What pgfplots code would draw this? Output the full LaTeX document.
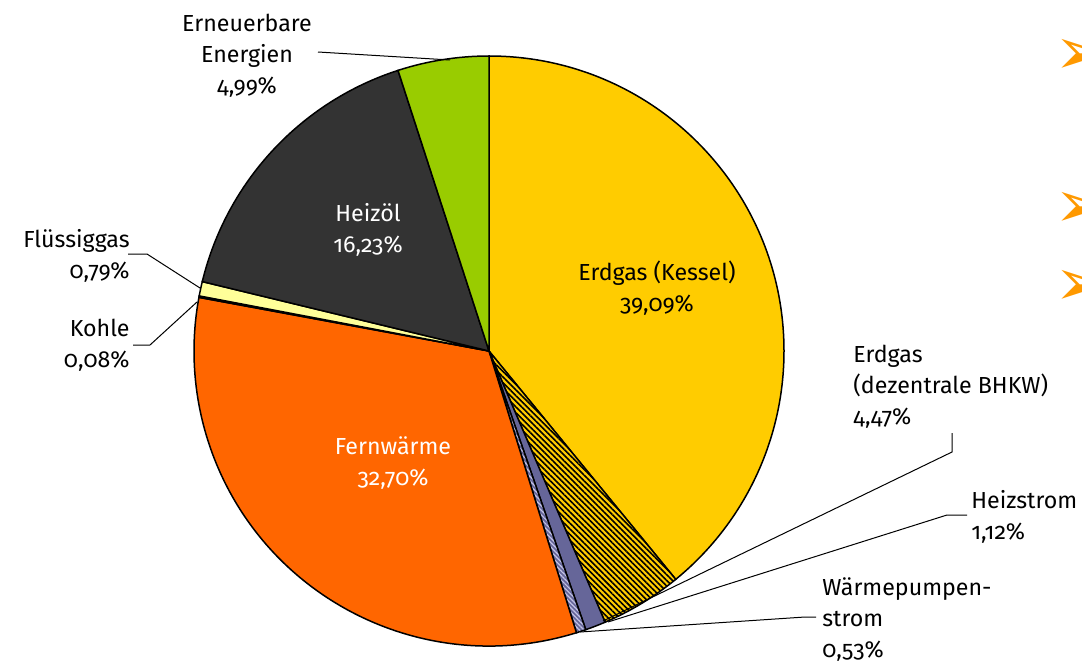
\documentclass[border=0pt]{standalone}
\usepackage{pgfplots}
\pgfplotsset{compat=1.18}
\usepackage{pgfplotstable}
\usetikzlibrary{patterns.meta}
\usepackage{fontspec}
\setmainfont{Fira Sans}[Numbers=OldStyle]
\newfontfamily\symfont{DejaVu Sans}
\definecolor{cKessel}{HTML}{FFCC00}
\definecolor{cFern}{HTML}{FF6600}
\definecolor{cHeiz}{HTML}{333333}
\definecolor{cEE}{HTML}{99CC00}
\definecolor{cFl}{HTML}{FFFF99}
\definecolor{cKohle}{HTML}{993300}
\definecolor{cStrom}{HTML}{666699}
\definecolor{cWP}{HTML}{C4C4E6}
\definecolor{cArrow}{HTML}{FF9900}
\pgfplotstableread{
label value
ErdgasKessel 39.09
ErdgasBHKW 4.47
Heizstrom 1.12
Waermepumpenstrom 0.53
Fernwaerme 32.70
Kohle 0.08
Fluessiggas 0.79
Heizoel 16.23
Erneuerbare 4.99
}\piedata
\tikzset{
  s0/.style={fill=cKessel},
  s1/.style={preaction={fill=cKessel},pattern={Lines[angle=-45,distance=2pt,line width=0.8pt]},pattern color=black},
  s2/.style={fill=cStrom},
  s3/.style={preaction={fill=cStrom},pattern={Lines[angle=-45,distance=1.6pt,line width=0.6pt]},pattern color=cWP},
  s4/.style={fill=cFern},
  s5/.style={fill=cKohle},
  s6/.style={fill=cFl},
  s7/.style={fill=cHeiz},
  s8/.style={fill=cEE},
  lbl/.style={inner sep=0pt,font=\fontsize{11.6}{15.5}\selectfont},
  lead/.style={line width=0.5pt,black},
  bul/.style={anchor=west,inner sep=0pt,text=cArrow,font=\symfont\fontsize{33}{33}\selectfont},
}
\begin{document}
\begin{tikzpicture}
\useasboundingbox (0,0) rectangle (541pt,333pt);
\gdef\cum{90}
\foreach \i in {0,...,8}{
  \pgfplotstablegetelem{\i}{value}\of\piedata
  \pgfmathsetmacro\e{\cum-3.6*\pgfplotsretval}
  \expandafter\xdef\csname sA\i\endcsname{\cum}
  \expandafter\xdef\csname eA\i\endcsname{\e}
  \xdef\cum{\e}
}
\begin{axis}[at={(0,0)},anchor=south west,scale only axis,width=541pt,height=333pt,
  xmin=0,xmax=1082,ymin=0,ymax=666,hide axis]
\pgfplotsinvokeforeach{0,...,8}{
  \draw[line width=0.75pt,s#1] (axis cs:489,315) -- ++(\csname sA#1\endcsname:147.5pt)
    arc[start angle=\csname sA#1\endcsname,end angle=\csname eA#1\endcsname,radius=147.5pt] -- cycle;
}
% leader lines
\draw[lead] (axis cs:318,614) -- (axis cs:450,606);
\draw[lead] (axis cs:128,412) -- (axis cs:147,412) -- (axis cs:200,378);
\draw[lead] (axis cs:133,321) -- (axis cs:150,321) -- (axis cs:197,364);
\draw[lead] (axis cs:952,233) -- (axis cs:952,214) -- (axis cs:603,45);
\draw[lead] (axis cs:967,151) -- (axis cs:947,151) -- (axis cs:608,44);
\draw[lead] (axis cs:816,49) -- (axis cs:805,49) -- (axis cs:580,34);
% labels
\node[lbl,align=center] at (axis cs:657,378) {Erdgas (Kessel)\\39,09\%};
\node[lbl,align=center,text=white] at (axis cs:368,436.5) {Heizöl\\16,23\%};
\node[lbl,align=center,text=white] at (axis cs:393,203) {Fernwärme\\32,70\%};
\node[lbl,align=center] at (axis cs:247,610) {Erneuerbare\\Energien\\4,99\%};
\node[lbl,align=right,anchor=east] at (axis cs:130,410) {Flüssiggas\\0,79\%};
\node[lbl,align=right,anchor=east] at (axis cs:130,321) {Kohle\\0,08\%};
\node[lbl,align=left,anchor=west] at (axis cs:853,279) {Erdgas\\(dezentrale BHKW)\\4,47\%};
\node[lbl,align=left,anchor=west] at (axis cs:971,149) {Heizstrom\\1,12\%};
\node[lbl,align=left,anchor=west] at (axis cs:822,46) {Wärmepumpen-\\strom\\0,53\%};
% bullets
\node[bul] at (axis cs:1054,609) {➢};
\node[bul] at (axis cs:1054,456) {➢};
\node[bul] at (axis cs:1054,378) {➢};
\end{axis}
\end{tikzpicture}
\end{document}
